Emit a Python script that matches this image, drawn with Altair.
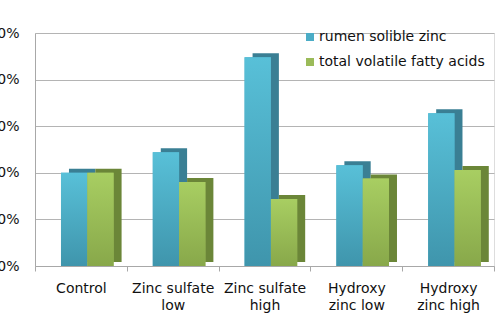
import altair as alt
import pandas as pd

categories = ["Control", "Zinc sulfate\nlow", "Zinc sulfate\nhigh", "Hydroxy\nzinc low", "Hydroxy\nzinc high"]
series = ["rumen solible zinc", "total volatile fatty acids"]
rumen_zinc = [100, 122, 224, 108, 164]
total_vfa = [100, 90, 72, 94, 103]
y_ticks = [0, 50, 100, 150, 200, 250]
front_colors = ["#4BACC6", "#9BBB59"]
side_colors = ["#3A7F94", "#6B8638"]
blue_grad = ["#58C0D8", "#3F95AC"]
green_grad = ["#A8CE62", "#88A84A"]

rows = []
for c, a, b in zip(categories, rumen_zinc, total_vfa):
    rows.append({"category": c, "series": series[0], "value": a})
    rows.append({"category": c, "series": series[1], "value": b})
df = pd.DataFrame(rows)

FONT = "DejaVu Sans"


def grad(stops):
    return {"gradient": "linear", "x1": 0, "y1": 0, "x2": 0, "y2": 1,
            "stops": [{"offset": 0, "color": stops[0]}, {"offset": 1, "color": stops[1]}]}


x = alt.X(
    "category:N", sort=categories,
    scale=alt.Scale(paddingInner=0, paddingOuter=0),
    axis=alt.Axis(title=None, labelAngle=0,
                  labelExpr="isString(datum.value) ? split(datum.value, '\\n') : ''",
                  tickBand="extent", ticks=True, tickSize=5, tickColor="#A8A8A8",
                  domainColor="#A8A8A8", labelFontSize=14, labelPadding=10,
                  labelLineHeight=17, grid=False, labelColor="#111111", labelFont=FONT),
)


def xo(align):
    return alt.XOffset("series:N", sort=series,
                       scale=alt.Scale(paddingInner=0, paddingOuter=0.745, align=align))


y = alt.Y(
    "value:Q", scale=alt.Scale(domain=[0, 250]),
    axis=alt.Axis(values=y_ticks, labelExpr="datum.value + '%'", title=None,
                  ticks=False, labelPadding=16, labelFontSize=14, labelFont=FONT,
                  labelColor="#111111", domainColor="#A8A8A8", gridColor="#B4B4B4",
                  grid=True),
)

side = alt.Chart(df).mark_bar(yOffset=-4).encode(
    x=x, xOffset=xo(0.867), y=y,
    color=alt.Color("series:N", sort=series,
                    scale=alt.Scale(domain=series, range=side_colors), legend=None),
)

front = alt.Chart(df).mark_bar().encode(
    x=x, xOffset=xo(0.663), y=y,
    color=alt.Color("series:N", sort=series,
                    scale=alt.Scale(domain=series, range=front_colors),
                    legend=alt.Legend(orient="none", legendX=268, legendY=-3, title=None,
                                      symbolType="square", symbolSize=64,
                                      labelFontSize=14, labelFont=FONT, labelColor="#111111",
                                      rowPadding=11, labelOffset=2, padding=0,
                                      labelLimit=0, symbolStrokeWidth=0)),
)

shade = alt.Chart(df).mark_bar().encode(
    x=x, xOffset=xo(0.663), y=y,
    fill=alt.condition(alt.datum.series == series[0], alt.value(grad(blue_grad)),
                       alt.value(grad(green_grad))),
)

chart = alt.layer(side, front, shade).resolve_scale(
    color="independent", xOffset="independent"
).properties(
    width=459, height=233,
    autosize=alt.AutoSizeParams(type="none"),
    padding={"left": 35, "top": 33, "right": 6, "bottom": 64},
).configure_view(stroke=None).configure(background="white")

chart.save("out.html", embed_options={"renderer": "svg", "actions": False})
